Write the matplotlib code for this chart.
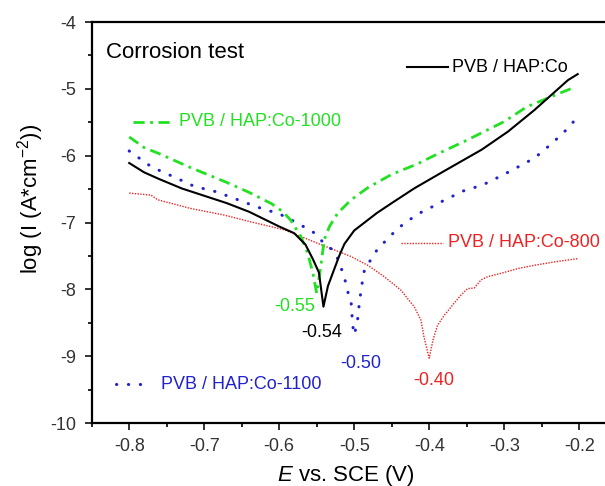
"""Tafel plot, corrosion test of PVB / HAP:Co coatings"""

# imports

import matplotlib
matplotlib.use("Agg")
import matplotlib.pyplot as plt
from matplotlib.ticker import MultipleLocator

plt.rcParams['font.family'] = ['Liberation Sans', 'DejaVu Sans']
plt.rcParams['mathtext.fontset'] = 'custom'
plt.rcParams['mathtext.rm'] = 'Liberation Sans'
plt.rcParams['mathtext.it'] = 'Liberation Sans:italic'

# data

E_CO = [-0.80, -0.78, -0.76, -0.73, -0.70, -0.67, -0.64, -0.62, -0.60, -0.58,
        -0.565, -0.555, -0.547, -0.541, -0.535, -0.53, -0.52, -0.513, -0.50,
        -0.47, -0.45, -0.42, -0.38, -0.33, -0.295, -0.26, -0.24, -0.215, -0.202]
LOGI_CO = [-6.11, -6.25, -6.35, -6.49, -6.60, -6.71, -6.84, -6.95, -7.06, -7.16,
           -7.33, -7.55, -7.75, -8.26, -7.95, -7.80, -7.50, -7.32, -7.12,
           -6.86, -6.71, -6.49, -6.23, -5.91, -5.64, -5.32, -5.12, -4.87, -4.78]

E_CO1000 = [-0.80, -0.78, -0.76, -0.72, -0.67, -0.64, -0.61, -0.595, -0.585,
            -0.571, -0.562, -0.555, -0.55, -0.544, -0.54, -0.533, -0.522, -0.504,
            -0.482, -0.45, -0.415, -0.39, -0.35, -0.30, -0.27, -0.24, -0.205]
LOGI_CO1000 = [-5.72, -5.88, -5.97, -6.17, -6.40, -6.55, -6.72, -6.84, -6.96,
               -7.21, -7.46, -7.76, -8.06, -7.61, -7.26, -7.06, -6.86, -6.66,
               -6.48, -6.28, -6.12, -5.98, -5.77, -5.49, -5.27, -5.13, -4.97]

E_CO1100 = [-0.80, -0.77, -0.74, -0.713, -0.684, -0.655, -0.629, -0.60, -0.584,
            -0.571, -0.555, -0.542, -0.529, -0.521, -0.515, -0.511, -0.508, -0.504,
            -0.502, -0.50, -0.496, -0.493, -0.49, -0.487, -0.484, -0.478, -0.469,
            -0.455, -0.442, -0.429, -0.413, -0.40, -0.384, -0.371, -0.358, -0.329,
            -0.30, -0.287, -0.273, -0.258, -0.244, -0.229, -0.215, -0.203]
LOGI_CO1100 = [-5.93, -6.17, -6.32, -6.46, -6.54, -6.66, -6.77, -6.87, -6.96,
               -7.04, -7.14, -7.29, -7.41, -7.56, -7.76, -7.91, -8.06, -8.21,
               -8.54, -8.68, -8.51, -8.19, -7.95, -7.74, -7.66, -7.56, -7.40,
               -7.24, -7.09, -6.98, -6.86, -6.79, -6.69, -6.62, -6.54, -6.44,
               -6.28, -6.20, -6.12, -6.02, -5.89, -5.74, -5.59, -5.43]

E_CO800 = [-0.80, -0.771, -0.762, -0.718, -0.673, -0.638, -0.593, -0.549, -0.504,
           -0.482, -0.46, -0.438, -0.42, -0.411, -0.407, -0.40, -0.395, -0.389,
           -0.38, -0.367, -0.358, -0.349, -0.34, -0.331, -0.322, -0.304, -0.282,
           -0.26, -0.233, -0.202]
LOGI_CO800 = [-6.56, -6.59, -6.66, -6.79, -6.89, -6.99, -7.11, -7.31, -7.51,
              -7.64, -7.81, -8.01, -8.26, -8.46, -8.71, -9.03, -8.76, -8.54,
              -8.39, -8.21, -8.09, -7.99, -7.98, -7.86, -7.81, -7.76, -7.69,
              -7.64, -7.59, -7.54]

LABELS = ['PVB / HAP:Co', 'PVB / HAP:Co-1000', 'PVB / HAP:Co-800', 'PVB / HAP:Co-1100']
ECORR = ['-0.54', '-0.55', '-0.40', '-0.50']

# colours / styles

BLACK = '#000000'
GREEN = '#22e022'
RED = '#ee2222'
BLUE = '#2222cc'

style_co = dict(color=BLACK, lw=1.5)
style_1000 = dict(color=GREEN, lw=2.0, linestyle=(0, (4, 2, 1, 2)))
style_800 = dict(color=RED, lw=1.0, linestyle=(0, (1, 1)))
style_1100 = dict(color=BLUE, lw=2.2, linestyle=(0, (0.1, 3.8)), dash_capstyle='round')

# Main ==========================

fig = plt.figure(figsize=(6.05, 4.86), dpi=100)
# axes extends past the right edge, like the cropped original
ax = fig.add_axes([91.7 / 605, 63 / 486, 525 / 605, 401 / 486])

ax.plot(E_CO800, LOGI_CO800, **style_800)
ax.plot(E_CO1100, LOGI_CO1100, **style_1100)
ax.plot(E_CO1000, LOGI_CO1000, **style_1000)
ax.plot(E_CO, LOGI_CO, **style_co)

ax.set_xlim(-0.85, -0.15)
ax.set_ylim(-10, -4)
ax.xaxis.set_minor_locator(MultipleLocator(0.05))
ax.yaxis.set_minor_locator(MultipleLocator(0.5))
ax.set_xticks([-0.8, -0.7, -0.6, -0.5, -0.4, -0.3, -0.2])
ax.set_xticklabels(['-0.8', '-0.7', '-0.6', '-0.5', '-0.4', '-0.3', '-0.2'])
ax.set_yticks([-10, -9, -8, -7, -6, -5, -4])
ax.set_yticklabels(['-10', '-9', '-8', '-7', '-6', '-5', '-4'])

for sp in ax.spines.values():
  sp.set_linewidth(1.6)
ax.tick_params(which='major', direction='out', length=5, width=1.4, labelsize=13, pad=6, color='#333333', labelcolor='#333333')
ax.tick_params(which='minor', direction='out', length=3, width=1.2)
ax.tick_params(top=False, right=False, which='both')

# legend drawn by hand as in the original
leg = [
  (style_co, -0.429, -0.375, -4.68, -0.369, LABELS[0], BLACK),
  (style_1000, -0.7955, -0.742, -5.49, -0.734, LABELS[1], GREEN),
  (style_800, -0.438, -0.382, -7.30, -0.375, LABELS[2], RED),
  (style_1100, -0.818, -0.771, -9.42, -0.757, LABELS[3], BLUE),
]
for st, x0, x1, y, xt, lab, col in leg:
  ax.plot([x0, x1], [y, y], **st)
  ax.text(xt, y, lab, color=col, fontsize=13, ha='left', va='center')

# corrosion potentials
ax.text(-0.580, -8.26, ECORR[1], color=GREEN, fontsize=13, ha='center', va='center')
ax.text(-0.543, -8.64, ECORR[0], color=BLACK, fontsize=13, ha='center', va='center')
ax.text(-0.491, -9.11, ECORR[3], color=BLUE, fontsize=13, ha='center', va='center')
ax.text(-0.394, -9.36, ECORR[2], color=RED, fontsize=13, ha='center', va='center')

# texts
ax.text(-0.831, -4.45, 'Corrosion test', fontsize=16, ha='left', va='center')
fig.text(31 / 605, 1 - 199 / 486, r'log (I (A*cm$^{-2}$))', rotation=90,
         fontsize=16, ha='center', va='center')
fig.text(346 / 605, 1 - 475 / 486, r'$\it{E}$ vs. SCE (V)', fontsize=16,
         ha='center', va='center')

fig.savefig('out.png', dpi=100)
